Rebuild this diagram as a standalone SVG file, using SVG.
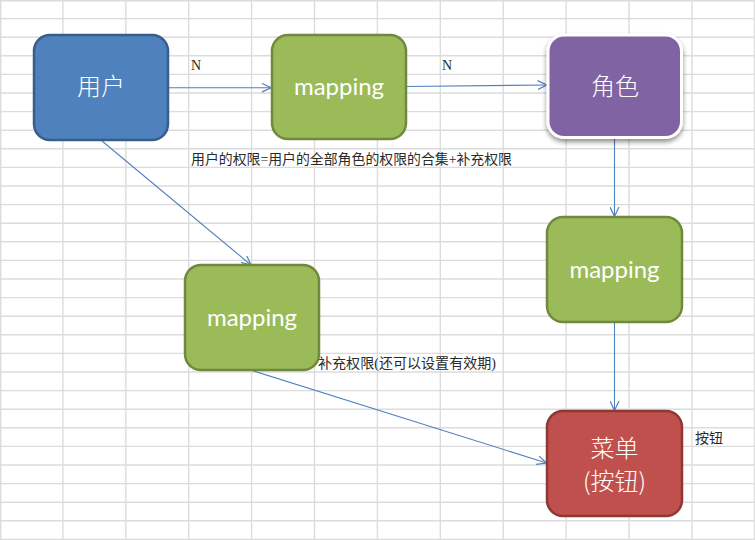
<svg xmlns="http://www.w3.org/2000/svg" width="755" height="540" viewBox="0 0 755 540">
<defs>
<style>
.grid{stroke:#DCDCDC;stroke-width:1.4;fill:none}
.conn{stroke:#4F81BD;stroke-width:1.1;fill:none}
.cjk{font-family:"Noto Sans CJK SC","Noto Sans CJK JP",sans-serif;fill:#FFFFFF;font-size:24px;font-weight:300;text-anchor:middle}
.map{font-family:Lato,"Open Sans",sans-serif;fill:#FFFFFF;font-size:24px;text-anchor:middle}
.lbl{font-family:"Liberation Serif","Noto Sans CJK SC",serif;fill:#2A2A2A;font-size:14px}
.blue{fill:#4F81BD;stroke:#385D8A;stroke-width:2.5}
.green{fill:#9BBB59;stroke:#71893F;stroke-width:2.5}
.purple{fill:#8064A2;stroke:#FFFFFF;stroke-width:3}
.red{fill:#C0504D;stroke:#8C3836;stroke-width:2.5}
</style>
<marker id="arr" viewBox="0 0 10 10" refX="9.5" refY="5" markerWidth="10" markerHeight="10" markerUnits="userSpaceOnUse" orient="auto">
<path d="M0,0.5 L9.5,5 L0,9.5" fill="none" stroke="#4F81BD" stroke-width="1.2"/>
</marker>
<filter id="shadow" x="-20%" y="-20%" width="140%" height="150%">
<feGaussianBlur in="SourceAlpha" stdDeviation="2.5"/>
<feOffset dx="0" dy="3" result="b"/>
<feComponentTransfer><feFuncA type="linear" slope="0.45"/></feComponentTransfer>
<feMerge><feMergeNode/><feMergeNode in="SourceGraphic"/></feMerge>
</filter>
</defs>
<rect width="755" height="540" fill="#FFFFFF"/>
<g id="grid">
<path class="grid" d="M0.7,0V540 M62.9,0V540 M125.8,0V540 M188.7,0V540 M251.6,0V540 M314.5,0V540 M377.4,0V540 M440.3,0V540 M503.2,0V540 M566.1,0V540 M629,0V540 M691.9,0V540 M754.5,0V540"/>
<path class="grid" d="M0,0.7H755 M0,18.6H755 M0,37.2H755 M0,55.8H755 M0,74.4H755 M0,93H755 M0,111.6H755 M0,130.2H755 M0,148.8H755 M0,167.4H755 M0,186H755 M0,204.6H755 M0,223.2H755 M0,241.8H755 M0,260.4H755 M0,279H755 M0,297.6H755 M0,316.2H755 M0,334.8H755 M0,353.4H755 M0,372H755 M0,390.6H755 M0,409.2H755 M0,427.8H755 M0,446.4H755 M0,465H755 M0,483.6H755 M0,502.2H755 M0,520.8H755 M0,539.4H755"/>
</g>
<g id="connectors">
<path class="conn" d="M168,87.7 L271,87.7" marker-end="url(#arr)"/>
<path class="conn" d="M406.5,86.5 L547,85" marker-end="url(#arr)"/>
<path class="conn" d="M102,141 L251,265" marker-end="url(#arr)"/>
<path class="conn" d="M614.5,138 L614.5,216.5" marker-end="url(#arr)"/>
<path class="conn" d="M614.5,323 L614.5,410.5" marker-end="url(#arr)"/>
<path class="conn" d="M252,370.5 L546.5,463" marker-end="url(#arr)"/>
</g>
<g id="labels">
<text class="lbl" x="191" y="70" font-size="13">N</text>
<text class="lbl" x="442" y="70" font-size="13">N</text>
<text class="lbl" x="191" y="164" textLength="321" lengthAdjust="spacingAndGlyphs">用户的权限=用户的全部角色的权限的合集+补充权限</text>
<text class="lbl" x="318" y="368" textLength="178" lengthAdjust="spacingAndGlyphs">补充权限(还可以设置有效期)</text>
<text class="lbl" x="695" y="443">按钮</text>
</g>
<g id="node-user">
<rect class="blue" x="34" y="35" width="134" height="105" rx="16"/>
<text class="cjk" x="101" y="95">用户</text>
</g>
<g id="node-mapping1">
<rect class="green" x="272" y="35" width="134" height="104" rx="16"/>
<text class="map" x="339" y="94.5">mapping</text>
</g>
<g id="node-role">
<rect class="purple" x="548" y="35" width="133.5" height="102.5" rx="16" filter="url(#shadow)"/>
<text class="cjk" x="615" y="95">角色</text>
</g>
<g id="node-mapping2">
<rect class="green" x="185" y="265" width="134" height="105" rx="16"/>
<text class="map" x="252" y="325.5">mapping</text>
</g>
<g id="node-mapping3">
<rect class="green" x="547" y="217" width="135" height="105" rx="16"/>
<text class="map" x="614.5" y="277.5">mapping</text>
</g>
<g id="node-menu">
<rect class="red" x="547" y="411" width="135" height="105" rx="16"/>
<text class="cjk" x="614.5" y="457">菜单</text>
<text class="cjk" x="614.5" y="490">(按钮)</text>
</g>
</svg>
